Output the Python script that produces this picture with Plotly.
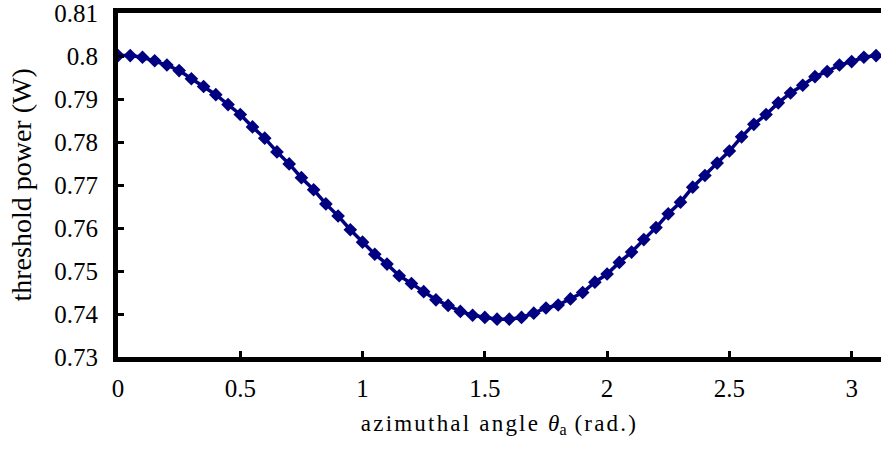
import plotly.graph_objects as go

# azimuthal angle (rad.) sampled every 0.05 rad
theta_a = [
    0.00, 0.05, 0.10, 0.15, 0.20, 0.25, 0.30, 0.35, 0.40, 0.45,
    0.50, 0.55, 0.60, 0.65, 0.70, 0.75, 0.80, 0.85, 0.90, 0.95,
    1.00, 1.05, 1.10, 1.15, 1.20, 1.25, 1.30, 1.35, 1.40, 1.45,
    1.50, 1.55, 1.60, 1.65, 1.70, 1.75, 1.80, 1.85, 1.90, 1.95,
    2.00, 2.05, 2.10, 2.15, 2.20, 2.25, 2.30, 2.35, 2.40, 2.45,
    2.50, 2.55, 2.60, 2.65, 2.70, 2.75, 2.80, 2.85, 2.90, 2.95,
    3.00, 3.05, 3.10,
]

# threshold power (W)
threshold_power = [
    0.8001, 0.8001, 0.7997, 0.7989, 0.7979, 0.7966, 0.7947, 0.7929, 0.7910, 0.7887,
    0.7864, 0.7835, 0.7809, 0.7777, 0.7749, 0.7717, 0.7689, 0.7656, 0.7628, 0.7596,
    0.7567, 0.7539, 0.7516, 0.7489, 0.7471, 0.7452, 0.7433, 0.7420, 0.7406, 0.7397,
    0.7392, 0.7388, 0.7388, 0.7392, 0.7402, 0.7414, 0.7421, 0.7435, 0.7450, 0.7474,
    0.7493, 0.7520, 0.7544, 0.7573, 0.7601, 0.7633, 0.7660, 0.7695, 0.7722, 0.7751,
    0.7779, 0.7812, 0.7841, 0.7864, 0.7891, 0.7914, 0.7932, 0.7952, 0.7964, 0.7979,
    0.7987, 0.7997, 0.8001,
]

x_ticks = [0, 0.5, 1, 1.5, 2, 2.5, 3]
x_tick_text = ["0", "0.5", "1", "1.5", "2", "2.5", "3"]
y_ticks = [0.73, 0.74, 0.75, 0.76, 0.77, 0.78, 0.79, 0.80, 0.81]
y_tick_text = ["0.73", "0.74", "0.75", "0.76", "0.77", "0.78", "0.79", "0.8", "0.81"]

x_title = ('<span style="letter-spacing:2.2px">azimuthal angle </span>'
           '<i>θ</i><sub>a</sub>'
           '<span style="letter-spacing:2.2px"> (rad.)</span>')
y_title = "threshold power (W)"

NAVY = "#000080"
FONT = "Liberation Serif"

fig = go.Figure(
    go.Scatter(
        x=theta_a,
        y=threshold_power,
        mode="lines+markers",
        line=dict(color=NAVY, width=3.5),
        marker=dict(symbol="diamond", size=10.5, color=NAVY),
        showlegend=False,
    )
)

fig.update_layout(
    width=881,
    height=457,
    margin=dict(l=118, r=0, t=11, b=100),
    paper_bgcolor="white",
    plot_bgcolor="white",
    font=dict(family=FONT, size=25, color="black"),
)

axis_style = dict(
    ticks="inside",
    ticklen=6,
    tickwidth=3,
    tickcolor="black",
    showline=True,
    linewidth=5,
    linecolor="black",
    showgrid=False,
    zeroline=False,
    ticklabeloverflow="allow",
    tickfont=dict(family=FONT, size=25, color="black"),
)

fig.update_xaxes(
    range=[0, 3.12],
    tickvals=x_ticks,
    ticktext=x_tick_text,
    mirror=True,
    ticklabelstandoff=5,
    title=dict(text=x_title, font=dict(family=FONT, size=23), standoff=15),
    **axis_style,
)

fig.update_yaxes(
    range=[0.73, 0.81],
    tickvals=y_ticks,
    ticktext=y_tick_text,
    ticklabelstandoff=10,
    **axis_style,
)

# rotated y-axis title left of the tick labels
fig.add_annotation(
    text=y_title,
    xref="paper", yref="paper",
    x=-0.1265, y=0.5,
    xanchor="center", yanchor="middle",
    textangle=-90,
    showarrow=False,
    font=dict(family=FONT, size=28, color="black"),
)

fig.write_html("out.html")
